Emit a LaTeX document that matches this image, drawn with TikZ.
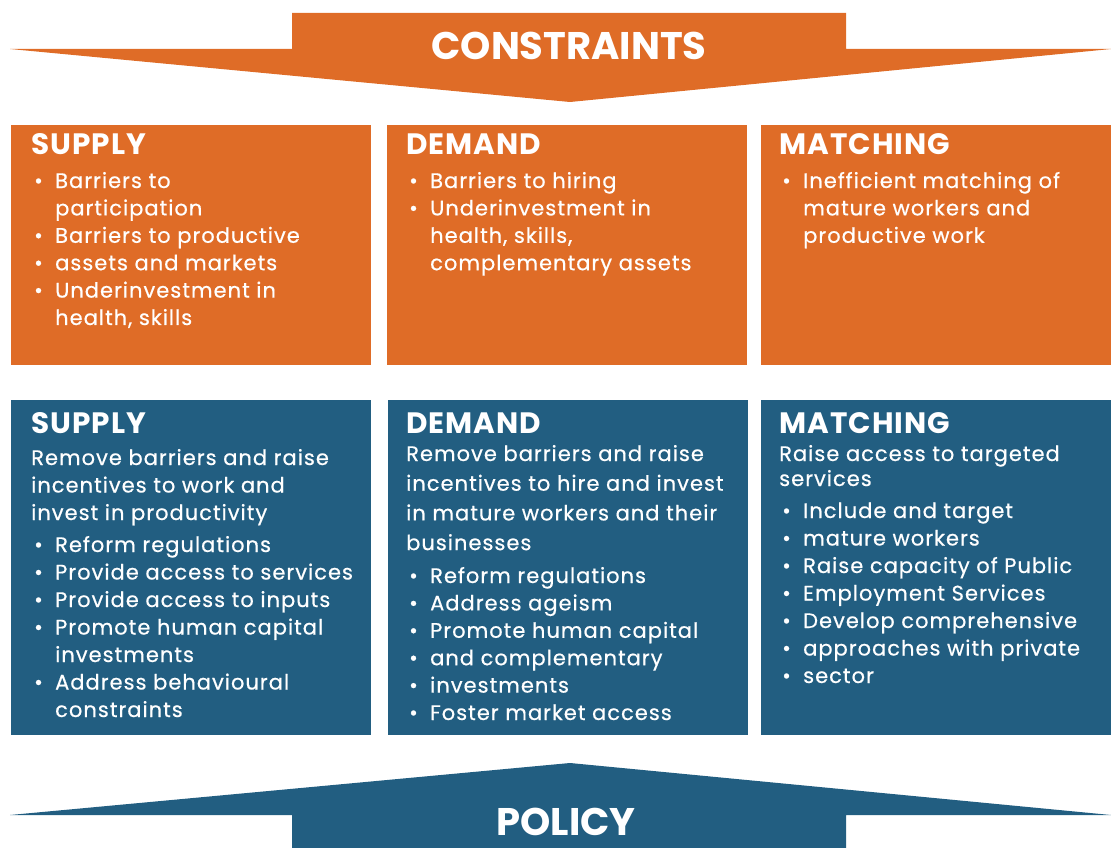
\documentclass[tikz,border=0pt]{standalone}
\usepackage{fontspec}
\setmainfont{Poppins}
\newfontfamily\bodyfont{Poppins}[LetterSpace=4.8, FakeBold=0.5]
\newfontfamily\headfont{Poppins}[LetterSpace=3.5]
\definecolor{corange}{RGB}{223,108,39}
\definecolor{cblue}{RGB}{34,94,129}
% one line of a bullet list, a continuation line, and a plain line
\newcommand\bitem[1]{\hbox{\makebox[24pt][l]{\hspace{3pt}\textbullet}#1}}
\newcommand\bcont[1]{\hbox{\hspace{24pt}#1}}
\newcommand\pline[1]{\hbox{#1}}
\newcommand\stack[2]{\vtop{\baselineskip=#1pt\lineskiplimit=-20pt #2}}
\tikzset{
  head/.style={anchor=base west, inner sep=0pt, text=white, font=\headfont\fontsize{29.5}{31}\selectfont\bfseries},
  body/.style={anchor=base west, inner sep=0pt, text=white, font=\bodyfont\fontsize{21}{27}\selectfont},
  big/.style={anchor=base, inner sep=0pt, text=white, font=\fontsize{38.5}{40}\selectfont\bfseries},
}
\begin{document}
\begin{tikzpicture}[x=1pt,y=-1pt]
\useasboundingbox (0,0) rectangle (1111,848);
% constraints arrow
\fill[corange] (292,13) -- (846,13) -- (846,49) -- (1111,49) -- (570,102) -- (10,49) -- (292,49) -- cycle;
\node[big] (tcon) at (569,60) {CONSTRAINTS};
% policy arrow
\fill[cblue] (570,763) -- (1111,815) -- (846,815) -- (846,848) -- (292,848) -- (292,815) -- (10,815) -- cycle;
\node[big] (tpol) at (566,835) {POLICY};
% constraint boxes
\fill[corange] (11,125) rectangle (371,365);
\fill[corange] (387,125) rectangle (747,365);
\fill[corange] (761,125) rectangle (1111,365);
% policy boxes
\fill[cblue] (11,400) rectangle (371,735);
\fill[cblue] (388,400) rectangle (748,735);
\fill[cblue] (761,400) rectangle (1111,735);

% supply constraints
\node[head] (cs) at (31,155) {SUPPLY};
\node[body] (csb) at (31,188) {\stack{27.4}{\bitem{Barriers to}\bcont{participation}\bitem{Barriers to productive}\bitem{assets and markets}\bitem{Underinvestment in}\bcont{health, skills}}};
% demand constraints
\node[head] (cd) at (406,155) {DEMAND};
\node[body] (cdb) at (406,188) {\stack{27.4}{\bitem{Barriers to hiring}\bitem{Underinvestment in}\bcont{health, skills,}\bcont{complementary assets}}};
% matching constraints
\node[head] (cm) at (779,155) {MATCHING};
\node[body] (cmb) at (779,188) {\stack{27.4}{\bitem{Inefficient matching of}\bcont{mature workers and}\bcont{productive work}}};

% supply policy
\node[head] (ps) at (31,433) {SUPPLY};
\node[body] (psp) at (31,465) {\stack{27.5}{\pline{Remove barriers and raise}\pline{incentives to work and}\pline{invest in productivity}}};
\node[body] (psb) at (31,552) {\stack{27.5}{\bitem{Reform regulations}\bitem{Provide access to services}\bitem{Provide access to inputs}\bitem{Promote human capital}\bcont{investments}\bitem{Address behavioural}\bcont{constraints}}};
% demand policy
\node[head] (pd) at (406,433) {DEMAND};
\node[body] (pdp) at (406,461) {\stack{29.7}{\pline{Remove barriers and raise}\pline{incentives to hire and invest}\pline{in mature workers and their}\pline{businesses}}};
\node[body] (pdb) at (406,583) {\stack{27.4}{\bitem{Reform regulations}\bitem{Address ageism}\bitem{Promote human capital}\bitem{and complementary}\bitem{investments}\bitem{Foster market access}}};
% matching policy
\node[head] (pm) at (779,433) {MATCHING};
\node[body] (pmp) at (779,461) {\stack{25}{\pline{Raise access to targeted}\pline{services}}};
\node[body] (pmb) at (779,518) {\stack{27.5}{\bitem{Include and target}\bitem{mature workers}\bitem{Raise capacity of Public}\bitem{Employment Services}\bitem{Develop comprehensive}\bitem{approaches with private}\bitem{sector}}};
\end{tikzpicture}
\end{document}
